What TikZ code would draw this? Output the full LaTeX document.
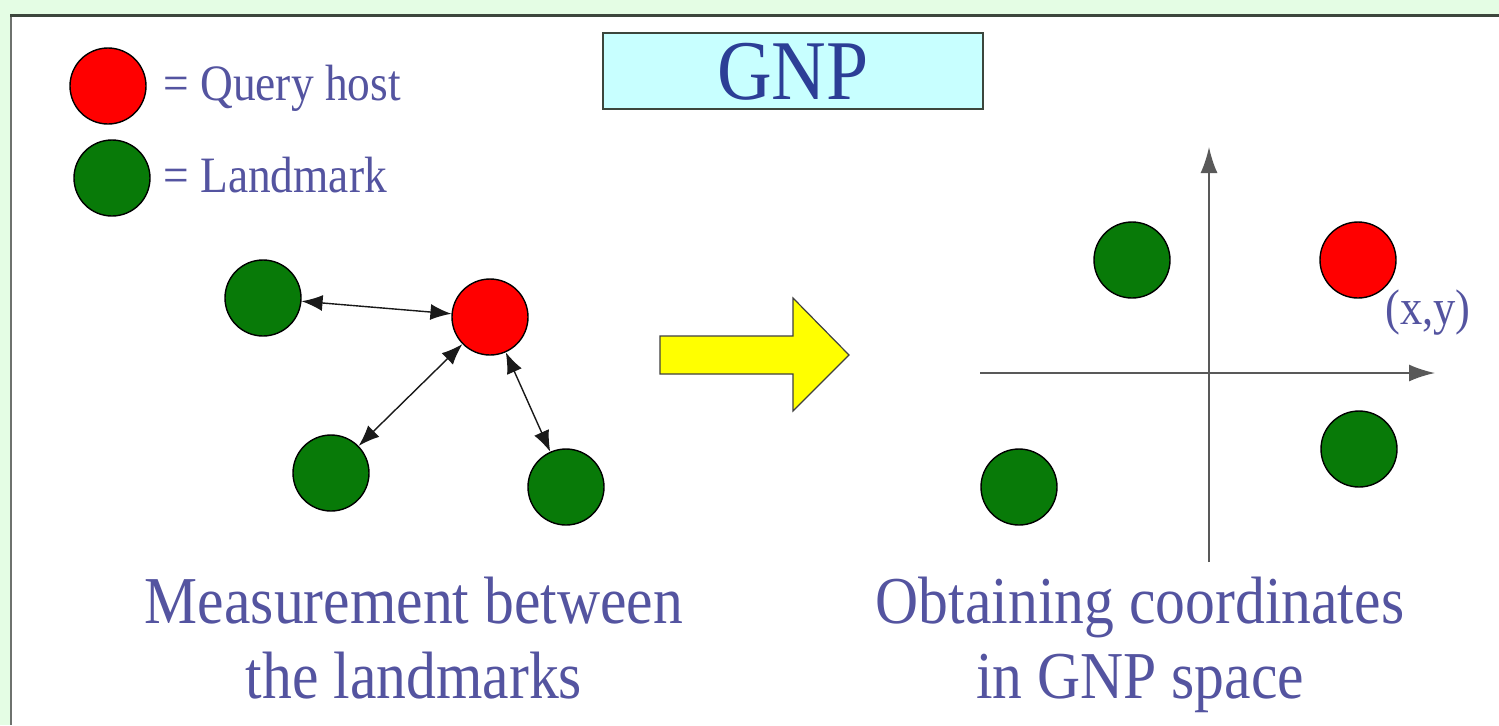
\documentclass[tikz,border=0pt]{standalone}
\usepackage{fontspec}
\setmainfont{Liberation Serif}
\usetikzlibrary{arrows.meta}
\definecolor{pagegreen}{RGB}{228,253,228}
\definecolor{framedark}{RGB}{60,70,60}
\definecolor{framegray}{RGB}{110,114,110}
\definecolor{slate}{RGB}{84,84,160}
\definecolor{titleblue}{RGB}{44,62,150}
\definecolor{titlefill}{RGB}{200,255,255}
\definecolor{lmgreen}{RGB}{8,122,8}
\definecolor{qred}{RGB}{255,0,0}
\definecolor{sunny}{RGB}{255,255,0}
\newcommand\narrow[1]{\scalebox{0.89}[1]{#1}}
\tikzset{
  host/.style={circle, draw=black, line width=0.7pt, minimum size=38pt, inner sep=0pt},
  query/.style={host, fill=qred},
  landmark/.style={host, fill=lmgreen},
  label text/.style={text=slate, inner sep=0pt},
  caption/.style={label text, font=\fontsize{33.5}{37.5}\selectfont, anchor=base},
  legend/.style={label text, font=\fontsize{25.5}{28}\selectfont, anchor=base west},
  measure/.style={{Latex[length=10.5pt,width=8pt]}-{Latex[length=10.5pt,width=8pt]}, line width=0.7pt, draw=black!90},
  axis/.style={-{Latex[length=13pt,width=8.5pt]}, line width=1pt, draw=black!65}
}
\begin{document}
\begin{tikzpicture}[x=0.5pt,y=-0.5pt]
\useasboundingbox (0,0) rectangle (1499,725);
% page and frame
\fill[pagegreen] (0,0) rectangle (1499,725);
\fill[white] (11,15) rectangle (1499,725);
\draw[framegray, line width=1.1pt] (11,15) -- (11,725);
\draw[framedark, line width=1.5pt] (10,15) -- (1499,15);

% title
\node[draw=framedark, line width=1pt, fill=titlefill, minimum width=190pt, minimum height=38pt, inner sep=0pt] (titlebox) at (793,71) {};
\node[text=titleblue, font=\fontsize{42.5}{46}\selectfont, anchor=base, inner sep=0pt] (title) at (793,99) {\narrow{GNP}};

% legend
\node[query] (keyq) at (108,86) {};
\node[legend] (keyqtext) at (163,100) {\narrow{= Query host}};
\node[landmark] (keyl) at (112,178) {};
\node[legend] (keyltext) at (163,192) {\narrow{= Landmark}};

% measurement between the landmarks
\node[landmark] (la) at (263,298) {};
\node[query] (q) at (490,317) {};
\node[landmark] (lb) at (331,473) {};
\node[landmark] (lc) at (566,487) {};
\draw[measure] (la) -- (q);
\draw[measure] (q) -- (lb);
\draw[measure] (q) -- (lc);
\node[caption] (capl1) at (414,623) {\narrow{Measurement between}};
\node[caption] (capl2) at (414,698) {\narrow{the landmarks}};

% block arrow
\draw[fill=sunny, draw=black!75, line width=0.6pt, line join=miter]
  (660,336) -- (793,336) -- (793,298) -- (849,355) -- (793,411) -- (793,374) -- (660,374) -- cycle;

% coordinates in GNP space
\coordinate (xstart) at (980,373);
\coordinate (xend) at (1435,373);
\coordinate (ystart) at (1209,562);
\coordinate (yend) at (1209,147);
\draw[axis] (xstart) -- (xend);
\draw[axis] (ystart) -- (yend);
\node[landmark] (g1) at (1132,260) {};
\node[query] (qq) at (1358,260) {};
\node[landmark] (g2) at (1359,449) {};
\node[landmark] (g3) at (1019,487) {};
\node[label text, font=\fontsize{25}{28}\selectfont, anchor=base] (xy) at (1428,324) {\narrow{(x,y)}};
\node[caption] (capr1) at (1140,623) {\narrow{Obtaining coordinates}};
\node[caption] (capr2) at (1140,698) {\narrow{in GNP space}};
\end{tikzpicture}
\end{document}
